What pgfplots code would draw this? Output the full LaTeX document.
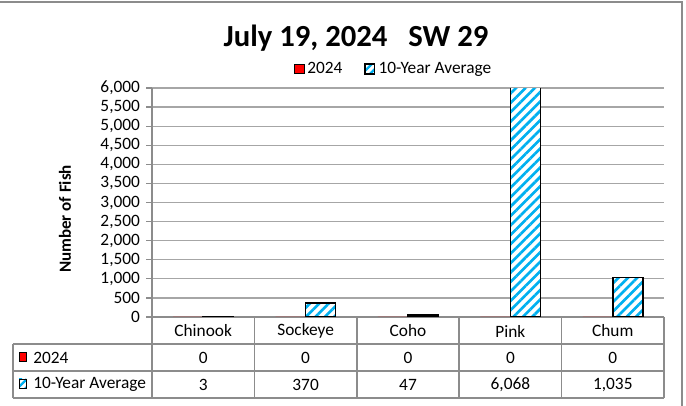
\documentclass[border=0pt]{standalone}
\usepackage{fontspec}
\setmainfont{Carlito}
\usepackage{pgfplots}
\pgfplotsset{compat=1.18}
\usetikzlibrary{patterns.meta}
\definecolor{avgblue}{HTML}{00B0F0}
\definecolor{tblgray}{HTML}{8C8C8C}
\definecolor{gridgray}{HTML}{A6A6A6}

\begin{document}
\begin{tikzpicture}
\useasboundingbox (0,0) rectangle (514.5pt,304.5pt);
\begin{axis}[
    at={(114pt,66.75pt)}, anchor=south west,
    scale only axis, width=384pt, height=171.75pt,
    xmin=-0.5, xmax=4.5, ymin=0, ymax=6000,
    ybar=0pt, bar width=22.5pt,
    axis lines=left, axis line style={-, tblgray, line width=1pt},
    xtick=\empty,
    ytick distance=500,
    ymajorgrids, grid style={gridgray, line width=1pt},
    tick align=outside, major tick length=4.5pt,
    tick style={tblgray, line width=1pt},
    yticklabel style={font=\fontsize{13}{15}\selectfont, xshift=-1pt},
    /pgf/number format/1000 sep={,},
    /pgf/number format/assume math mode=true,
    scaled y ticks=false,
    legend columns=2,
    legend style={draw=none, fill=none, at={(0.473,1)}, anchor=south,
        yshift=5pt, font=\fontsize{13}{15}\selectfont,
        /tikz/every even column/.append style={column sep=14pt}},
]

% 2024 (all zero)
\addplot[fill=red, draw=none,
    legend image code/.code={\draw[black, line width=0.7pt, fill=red] (0pt,-3.6pt) rectangle (7pt,3.6pt);}]
    coordinates {(0,0) (1,0) (2,0) (3,0) (4,0)};
\addlegendentry{2024}

% 10-year average
\addplot[draw=black, line width=1.3pt, preaction={fill=white},
    pattern={Lines[angle=45, distance=5pt, line width=2pt]}, pattern color=avgblue,
    legend image code/.code={\draw[black, line width=0.7pt, preaction={fill=white},
        pattern={Lines[angle=45, distance=4pt, line width=2pt]}, pattern color=avgblue]
        (0pt,-3.6pt) rectangle (7pt,3.6pt);}]
    coordinates {(0,3) (1,370) (2,47) (3,6068) (4,1035)};
\addlegendentry{10-Year Average}

\end{axis}

\begin{scope}[x=0.75pt, y=-0.75pt, yshift=304.5pt]
% outer frame (top and right)
\draw[tblgray, line width=1.5pt] (0,2) -- (682,2) -- (682,406);

% title and y label
\node[font=\fontsize{23}{27}\selectfont\bfseries] at (356,38) {July 19, 2024~~~SW 29};
\node[rotate=90, font=\fontsize{12.75}{15}\selectfont\bfseries] at (65,219) {Number of Fish};

% data table grid
\draw[tblgray, line width=1.2pt]
    (13,344) -- (664,344) (13,371) -- (664,371) (13,398) -- (664,398) (13,344) -- (13,398);
\foreach \x in {152,254.4,356.8,459.2,561.6,664}
    \draw[tblgray, line width=1.2pt] (\x,317) -- (\x,398);

% table text
\begin{scope}[every node/.style={font=\fontsize{13}{15}\selectfont}]
\foreach \n [count=\i from 0] in {Chinook,Sockeye,Coho,Pink,Chum}
    \node at (203.2+102.4*\i,331) {\n};
\foreach \v [count=\i from 0] in {0,0,0,0,0}
    \node at (203.2+102.4*\i,358) {\v};
\foreach \v [count=\i from 0] in {3,370,47,{6,068},{1,035}}
    \node at (203.2+102.4*\i,385) {\v};
\draw[black, line width=0.7pt, fill=red] (19,352) rectangle (26,361);
\node[anchor=west, inner sep=0pt] at (33,357.5) {2024};
\draw[black, line width=0.7pt, preaction={fill=white},
    pattern={Lines[angle=45, distance=4pt, line width=2pt]}, pattern color=avgblue]
    (19,379) rectangle (26,388);
\node[anchor=west, inner sep=0pt] at (33,384.5) {10-Year Average};
\end{scope}
\end{scope}
\end{tikzpicture}
\end{document}
